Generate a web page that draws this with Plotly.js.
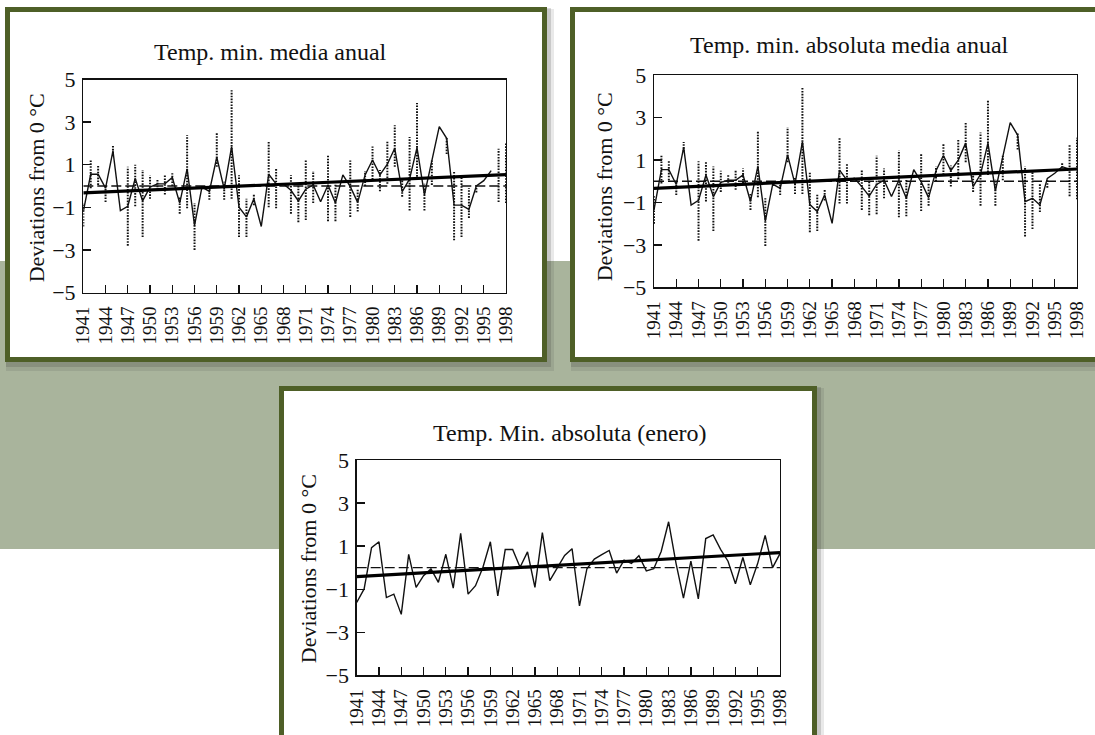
<!DOCTYPE html>
<html>
<head>
<meta charset="utf-8">
<script src="https://cdn.plot.ly/plotly-3.0.1.min.js"></script>
<style>html,body{margin:0;padding:0;background:#fff;}#chart{width:1095px;height:735px;}</style>
</head>
<body>
<div id="chart"></div>
<script>
// ---------------- DATA ----------------
const years = [1941,1942,1943,1944,1945,1946,1947,1948,1949,1950,1951,1952,1953,1954,1955,1956,1957,1958,1959,1960,
  1961,1962,1963,1964,1965,1966,1967,1968,1969,1970,1971,1972,1973,1974,1975,1976,1977,1978,1979,1980,
  1981,1982,1983,1984,1985,1986,1987,1988,1989,1990,1991,1992,1993,1994,1995,1996,1997,1998];

const tickYears = [1941,1944,1947,1950,1953,1956,1959,1962,1965,1968,1971,1974,1977,1980,1983,1986,1989,1992,1995,1998];
const tickLabels = ["1941","1944","1947","1950","1953","1956","1959","1962","1965","1968","1971","1974","1977","1980","1983","1986","1989","1992","1995","1998"];
const yTicks = [-5,-3,-1,1,3,5];
const yTickLabels = ["\u22125","\u22123","\u22121","1","3","5"];

const titles = ["Temp. min. media anual", "Temp. min. absoluta media anual", "Temp. Min. absoluta (enero)"];
const yTitle = "Deviations from 0 \u00b0C";

// Panel 1: Temp. min. media anual (1941-1996)
const series1 = [-1.2,0.55,0.55,-0.1,1.65,-1.15,-0.95,0.35,-0.7,-0.05,0.1,0.1,0.4,-0.8,0.8,-1.85,-0.05,-0.25,1.35,-0.15,
  1.85,-1.0,-1.45,-0.6,-1.9,0.55,0.1,0.1,-0.2,-0.7,-0.15,0.05,-0.74,0.05,-0.8,0.52,-0.03,-0.77,0.52,1.22,
  0.52,1.02,1.77,-0.27,0.33,1.8,-0.42,1.14,2.79,2.24,-0.9,-0.9,-1.1,0.0,0.25,0.72];
const dotYears1 = [1941,1942,1943,1944,1945,1947,1948,1949,1950,1951,1952,1953,1954,1955,1956,1958,1959,1960,1961,1962,
  1963,1964,1966,1967,1969,1970,1971,1972,1974,1975,1977,1978,1979,1980,1981,1982,1983,1984,1985,1986,
  1987,1988,1990,1991,1992,1993,1994,1997,1998];
const dotLow1 = [-1.9,-0.1,0.05,-0.75,1.4,-2.8,-0.95,-2.4,-0.6,-0.2,-0.4,0.0,-1.3,-1.05,-3.0,-0.65,0.9,-0.65,-0.6,-2.4,
  -2.4,-0.9,-1.0,-1.05,-1.3,-1.7,-1.6,-0.8,-1.65,-1.65,-1.45,-1.2,0.0,0.3,-0.25,0.1,0.9,-0.5,-1.15,0.3,
  -1.15,0.05,1.5,-2.55,-2.4,-1.5,-0.3,-0.75,-0.8];
const dotHigh1 = [-0.8,1.2,0.95,0.05,1.9,0.9,1.0,0.75,0.5,0.3,0.5,0.6,-0.5,2.4,-0.8,-0.1,2.5,0.2,4.5,0.5,
  -0.6,-0.4,2.1,0.85,0.5,0.05,1.2,0.7,1.45,0.1,1.2,-0.1,0.7,1.85,0.75,2.1,2.85,0.3,2.3,3.9,
  0.1,1.2,2.25,0.7,0.5,-0.1,0.05,1.75,2.0];
const trend1 = [-0.32, 0.53];

// Panel 2: Temp. min. absoluta media anual (1941-1998)
const series2 = [-1.35,0.55,0.55,-0.15,1.6,-1.12,-0.9,0.3,-0.72,-0.05,0.05,0.05,0.3,-0.95,0.7,-1.88,-0.13,-0.33,1.25,-0.13,
  1.87,-1.1,-1.43,-0.64,-1.98,0.53,0.05,0.14,-0.25,-0.7,-0.15,0.05,-0.72,0.05,-0.8,0.55,-0.03,-0.77,0.5,1.22,
  0.5,1.0,1.8,-0.25,0.33,1.8,-0.45,1.1,2.77,2.18,-0.96,-0.8,-1.12,0.14,0.38,0.69,0.57,0.57];
const dotYears2 = [1941,1942,1943,1944,1945,1947,1948,1949,1950,1951,1952,1953,1954,1955,1956,1958,1959,1960,1961,1962,
  1963,1964,1966,1967,1969,1970,1971,1972,1974,1975,1977,1978,1979,1980,1981,1982,1983,1984,1985,1986,
  1987,1988,1990,1991,1992,1993,1994,1996,1997,1998];
const dotLow2 = [-2.0,-0.1,0.05,-0.65,1.4,-2.8,-0.95,-2.35,-0.5,-0.2,-0.4,-0.1,-1.35,-0.75,-3.05,-0.65,0.9,-0.6,-0.6,-2.4,
  -2.35,-0.9,-1.05,-1.05,-1.35,-1.6,-1.55,-0.8,-1.7,-1.65,-1.4,-1.15,0.0,0.3,-0.25,0.1,0.9,-0.5,-1.15,0.3,
  -1.15,0.05,1.5,-2.6,-2.25,-1.45,-0.3,0.5,-0.7,-0.85];
const dotHigh2 = [-0.7,1.2,0.95,0.05,1.85,0.95,0.95,0.7,0.5,0.3,0.5,0.6,-0.6,2.4,-0.8,-0.1,2.55,0.2,4.4,0.4,
  -0.6,-0.4,2.05,0.85,0.55,0.05,1.2,0.6,1.45,0.1,1.3,-0.1,0.7,1.8,0.75,2.0,2.8,0.3,2.3,3.85,
  0.1,1.2,2.25,0.7,0.5,-0.1,0.05,0.9,1.75,2.05];
const trend2 = [-0.33, 0.58];

// Panel 3: Temp. Min. absoluta (enero) (1941-1998)
const series3 = [-1.62,-0.99,0.93,1.2,-1.39,-1.23,-2.17,0.62,-0.92,-0.37,-0.06,-0.68,0.62,-0.95,1.59,-1.23,-0.84,0.02,1.2,-1.31,
  0.84,0.84,0.02,0.73,-0.92,1.63,-0.6,0.02,0.57,0.88,-1.78,-0.05,0.4,0.6,0.8,-0.25,0.35,0.2,0.55,-0.15,
  -0.05,0.75,2.13,0.2,-1.42,0.3,-1.45,1.35,1.52,0.85,0.3,-0.75,0.47,-0.8,0.2,1.5,0.0,0.65];
const trend3 = [-0.42, 0.7];

const zeroLine = [0, 0];

// ---------------- BUILD ----------------
const W = 1095, H = 735;
const px = x => x / W;
const py = y => 1 - y / H;
const FONT = "Liberation Serif, Times New Roman, serif";
const INK = "#111111";

const startEnd = [years[0], years[years.length - 1]];

function dotTrace(yrs, lo, hi, xa, ya) {
  const xs = [], ys = [];
  for (let i = 0; i < yrs.length; i++) { xs.push(yrs[i], yrs[i], null); ys.push(lo[i], hi[i], null); }
  return {x: xs, y: ys, xaxis: xa, yaxis: ya, mode: 'lines', hoverinfo: 'skip',
          line: {color: INK, width: 2, dash: '1.6px,1.3px'}, showlegend: false};
}
function lineTrace(ys, xa, ya) {
  return {x: years.slice(0, ys.length), y: ys, xaxis: xa, yaxis: ya, mode: 'lines',
          line: {color: INK, width: 1.4}, showlegend: false};
}
function trendTrace(t, xa, ya) {
  return {x: startEnd, y: t, xaxis: xa, yaxis: ya, mode: 'lines', line: {color: '#000', width: 3.2}, showlegend: false};
}
function zeroTrace(xa, ya) {
  return {x: startEnd, y: zeroLine, xaxis: xa, yaxis: ya, mode: 'lines',
          line: {color: INK, width: 1.4, dash: '10px,4px'}, showlegend: false};
}

const traces = [
  zeroTrace('x', 'y'), dotTrace(dotYears1, dotLow1, dotHigh1, 'x', 'y'), lineTrace(series1, 'x', 'y'), trendTrace(trend1, 'x', 'y'),
  zeroTrace('x2', 'y2'), dotTrace(dotYears2, dotLow2, dotHigh2, 'x2', 'y2'), lineTrace(series2, 'x2', 'y2'), trendTrace(trend2, 'x2', 'y2'),
  zeroTrace('x3', 'y3'), lineTrace(series3, 'x3', 'y3'), trendTrace(trend3, 'x3', 'y3')
];

function xAxis(l, r, anchor) {
  return {domain: [px(l), px(r)], anchor: anchor, range: startEnd, tickmode: 'array', tickvals: tickYears, ticktext: tickLabels,
    tickangle: -90, ticks: 'inside', ticklen: 8, tickwidth: 1.3, tickcolor: INK, showline: true, mirror: true,
    linecolor: INK, linewidth: 1.3, showgrid: false, zeroline: false, fixedrange: true, ticklabelstandoff: 5,
    tickfont: {family: FONT, size: 19, color: INK}};
}
function yAxis(t, b, anchor) {
  return {domain: [py(b), py(t)], anchor: anchor, range: [-5, 5], tickmode: 'array', tickvals: yTicks, ticktext: yTickLabels,
    ticks: 'inside', ticklen: 8, tickwidth: 1.3, tickcolor: INK, showline: true, mirror: true,
    linecolor: INK, linewidth: 1.3, showgrid: false, zeroline: false, fixedrange: true, ticklabelstandoff: 2,
    tickfont: {family: FONT, size: 22, color: INK}};
}

const BORDER = '#4e5f27';
const shapes = [];
function rectPx(x0, y0, x1, y1, opts) {
  shapes.push(Object.assign({type: 'rect', xref: 'paper', yref: 'paper', x0: px(x0), x1: px(x1), y0: py(y1), y1: py(y0), layer: 'below'}, opts));
}
// background band
rectPx(-5, 261, 1100, 549, {fillcolor: '#a9b49c', line: {width: 0}});
// panels: shadow + white + border
const panels = [[5, 7, 547, 362], [570, 7, 1102, 362], [279, 386, 817, 745]];
panels.forEach(p => {
  rectPx(p[0] + 1, p[1] + 2, p[2] + 7, p[3] + 9, {fillcolor: 'rgba(40,40,40,0.10)', line: {width: 0}});
  rectPx(p[0] + 1, p[1] + 1, p[2] + 4, p[3] + 5, {fillcolor: 'rgba(40,40,40,0.16)', line: {width: 0}});
  rectPx(p[0] + 2.5, p[1] + 2.5, p[2] - 2.5, p[3] - 2.5, {fillcolor: '#ffffff', line: {color: BORDER, width: 5}});
});

function ann(text, x, y, size, angle) {
  return {text: text, xref: 'paper', yref: 'paper', x: px(x), y: py(y), xanchor: 'center', yanchor: 'middle',
    showarrow: false, textangle: angle || 0, font: {family: FONT, size: size, color: INK}};
}
const annotations = [
  ann(titles[0], 270.5, 51.7, 24), ann(titles[1], 849, 45, 24), ann(titles[2], 570, 433.3, 24),
  ann(yTitle, 36, 188.3, 22, -90), ann(yTitle, 604.6, 186.7, 22, -90), ann(yTitle, 308.2, 569, 22, -90)
];

const layout = {
  width: W, height: H, margin: {l: 0, r: 0, t: 0, b: 0}, paper_bgcolor: '#ffffff', plot_bgcolor: 'rgba(0,0,0,0)',
  showlegend: false, shapes: shapes, annotations: annotations, hovermode: false,
  xaxis: xAxis(83.3, 506, 'y'), yaxis: yAxis(79.5, 292.5, 'x'),
  xaxis2: xAxis(654, 1077, 'y2'), yaxis2: yAxis(75.3, 287.3, 'x2'),
  xaxis3: xAxis(356.7, 780, 'y3'), yaxis3: yAxis(460, 675.3, 'x3')
};

Plotly.newPlot('chart', traces, layout, {displayModeBar: false, staticPlot: true});
</script>
</body>
</html>
